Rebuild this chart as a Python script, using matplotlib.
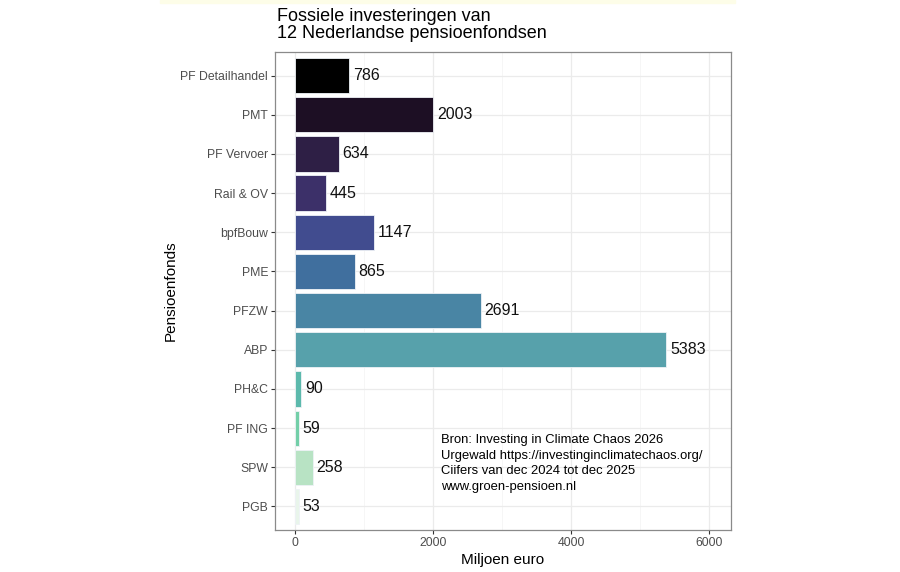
import matplotlib
matplotlib.use("Agg")
import matplotlib.pyplot as plt
from matplotlib.patches import Rectangle

plt.rcParams['font.family'] = ['Liberation Sans', 'DejaVu Sans']

# data, top to bottom as in the chart
funds = ['PF Detailhandel', 'PMT', 'PF Vervoer', 'Rail & OV', 'bpfBouw', 'PME',
         'PFZW', 'ABP', 'PH&C', 'PF ING', 'SPW', 'PGB']
values = [786, 2003, 634, 445, 1147, 865, 2691, 5383, 90, 59, 258, 53]
colors = ['#000000', '#1d0f24', '#2e1f45', '#3c3069', '#414c8f', '#406f9e',
          '#4985a4', '#57a1ab', '#5cb9ac', '#73cfa8', '#b8e3c4', '#e9f5eb']
xticks = [0, 2000, 4000, 6000]
source_lines = ['Bron: Investing in Climate Chaos 2026',
                'Urgewald https://investinginclimatechaos.org/',
                'Ciifers van dec 2024 tot dec 2025',
                'www.groen-pensioen.nl']

fig = plt.figure(figsize=(9, 5.72), dpi=100)
ax = fig.add_axes([275/900, 1 - 530/572, (731-275)/900, (530-52)/572])

# thin pale strip at the very top of the image
fig.patches.append(Rectangle((160/900, 1 - 3/572), (735-160)/900, 3/572,
                             transform=fig.transFigure, color='#fdfde8', zorder=0))

ypos = list(range(len(funds)))
ax.barh(ypos, values, height=0.9, color=colors, edgecolor='#eef2f6',
        linewidth=0.6, zorder=3)
for y, v in zip(ypos, values):
    ax.text(v + 55, y, str(v), va='center', ha='left', fontsize=11.5,
            color='#111111', zorder=4)

ax.set_xlim(-290, 6320)
ax.set_ylim(len(funds) - 0.4, -0.6)
ax.set_yticks(ypos)
ax.set_yticklabels(funds)
ax.set_xticks(xticks)
ax.set_xticks([1000, 3000, 5000], minor=True)
ax.tick_params(axis='both', labelsize=8.8, labelcolor='#4d4d4d', color='#333333',
               length=3, width=0.8, pad=2)
ax.tick_params(axis='x', which='minor', length=0)
ax.grid(True, which='major', color='#ebebeb', linewidth=0.9, zorder=0)
ax.grid(True, which='minor', axis='x', color='#f3f3f3', linewidth=0.5, zorder=0)
ax.set_axisbelow(True)
for s in ax.spines.values():
    s.set_color('#8a8a8a')
    s.set_linewidth(0.9)

ax.set_xlabel('Miljoen euro', fontsize=11, labelpad=3)
ax.set_ylabel('Pensioenfonds', fontsize=11, labelpad=2)

ax.text(2116, 9.9, '\n'.join(source_lines), ha='left', va='center',
        fontsize=9.4, linespacing=1.4, zorder=5)

fig.text(277/900, 1 - 25/572, 'Fossiele investeringen van\n12 Nederlandse pensioenfondsen',
         ha='left', va='center', fontsize=13, linespacing=1.05)

fig.savefig('out.png', dpi=100)
